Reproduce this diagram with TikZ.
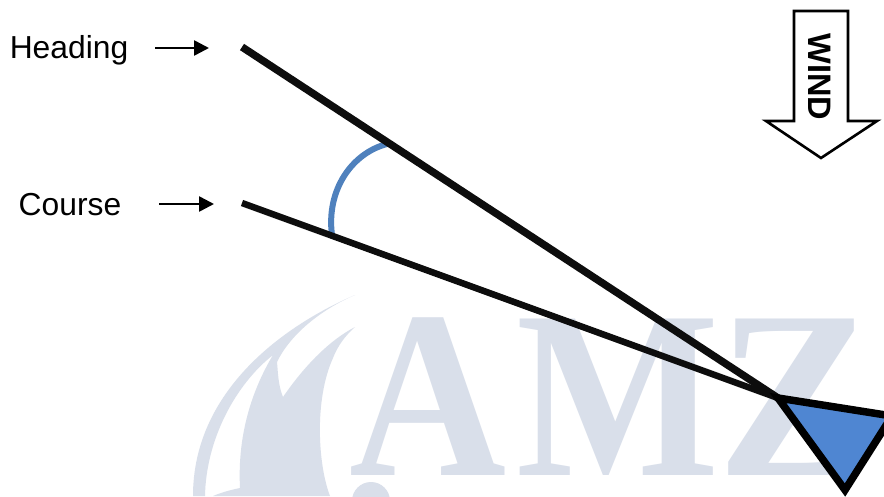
\documentclass[tikz,border=0pt]{standalone}
\usepackage{fontspec}
\setmainfont{Liberation Sans}
\newfontfamily\wmfont{Liberation Serif}
\usetikzlibrary{arrows.meta}
\definecolor{wm}{HTML}{D9DFEA}
\definecolor{arcblue}{HTML}{4F81BD}
\definecolor{boatblue}{HTML}{4F86D2}
\tikzset{
  lbl/.style={inner sep=0pt,anchor=base,font=\fontsize{31.8}{32}\selectfont},
  ptr/.style={line width=2.6pt,-{Triangle[length=15pt,width=15pt]}},
  trackline/.style={line width=6.5pt,black!95},
  wmletter/.style={inner sep=0pt,anchor=base,text=wm,font=\fontsize{239}{239}\selectfont\wmfont\bfseries}
}
\begin{document}
\begin{tikzpicture}[x=1pt,y=-1pt]
\useasboundingbox (0,0) rectangle (884,496);
\clip (0,0) rectangle (884,496);
\fill[white] (0,0) rectangle (884,496);
% watermark
\node[wmletter,xscale=.91] (wmA) at (428,475) {A};
\node[wmletter,xscale=.90] (wmM) at (618,475) {M};
\node[wmletter,xscale=.98] (wmZ) at (796,475) {Z};
% sail emblem
\fill[wm] (355,295) .. controls (285,325) and (193,390) .. (193,496)
  -- (205,496) .. controls (206,440) and (235,385) .. (273,355)
  .. controls (255,385) and (237,430) .. (240,488)
  .. controls (230,490) and (220,493) .. (213,496)
  -- (330,496) .. controls (318,465) and (314,400) .. (333,358)
  .. controls (338,345) and (346,335) .. (355,327)
  .. controls (330,340) and (305,365) .. (283,397)
  .. controls (278,385) and (278,372) .. (277,362)
  .. controls (290,335) and (320,310) .. (355,295) -- cycle;
\fill[wm] (371,501) circle (19);
% labels and pointers
\node[lbl] (heading) at (69,58) {Heading};
\node[lbl] (course) at (70,215) {Course};
\coordinate (hs) at (155,48); \coordinate (he) at (209,48);
\coordinate (cs) at (159,204); \coordinate (ce) at (214,204);
\draw[ptr] (hs) -- (he);
\draw[ptr] (cs) -- (ce);
% tracks
\coordinate (h0) at (242,47); \coordinate (c0) at (242,203); \coordinate (v) at (778,398);
\draw[arcblue,line width=6pt] (387,144) .. controls (352,153) and (326,190) .. (332,235);
\draw[trackline,line width=7.5pt] (h0) -- (v);
\draw[trackline] (c0) -- (v);
% boat
\coordinate (b1) at (892,416); \coordinate (b2) at (845,490);
\draw[fill=boatblue,line width=7.5pt,line join=miter] (v) -- (b1) -- (b2) -- cycle;
% wind arrow
\draw[line width=2.6pt,fill=white,line join=miter] (794,11) -- (848,11) -- (848,121) -- (877,121) -- (821,158) -- (766,121) -- (794,121) -- cycle;
\node[inner sep=0pt,rotate=-90,font=\fontsize{32.5}{33}\selectfont\bfseries] (wind) at (820,77) {WIND};
\end{tikzpicture}
\end{document}
